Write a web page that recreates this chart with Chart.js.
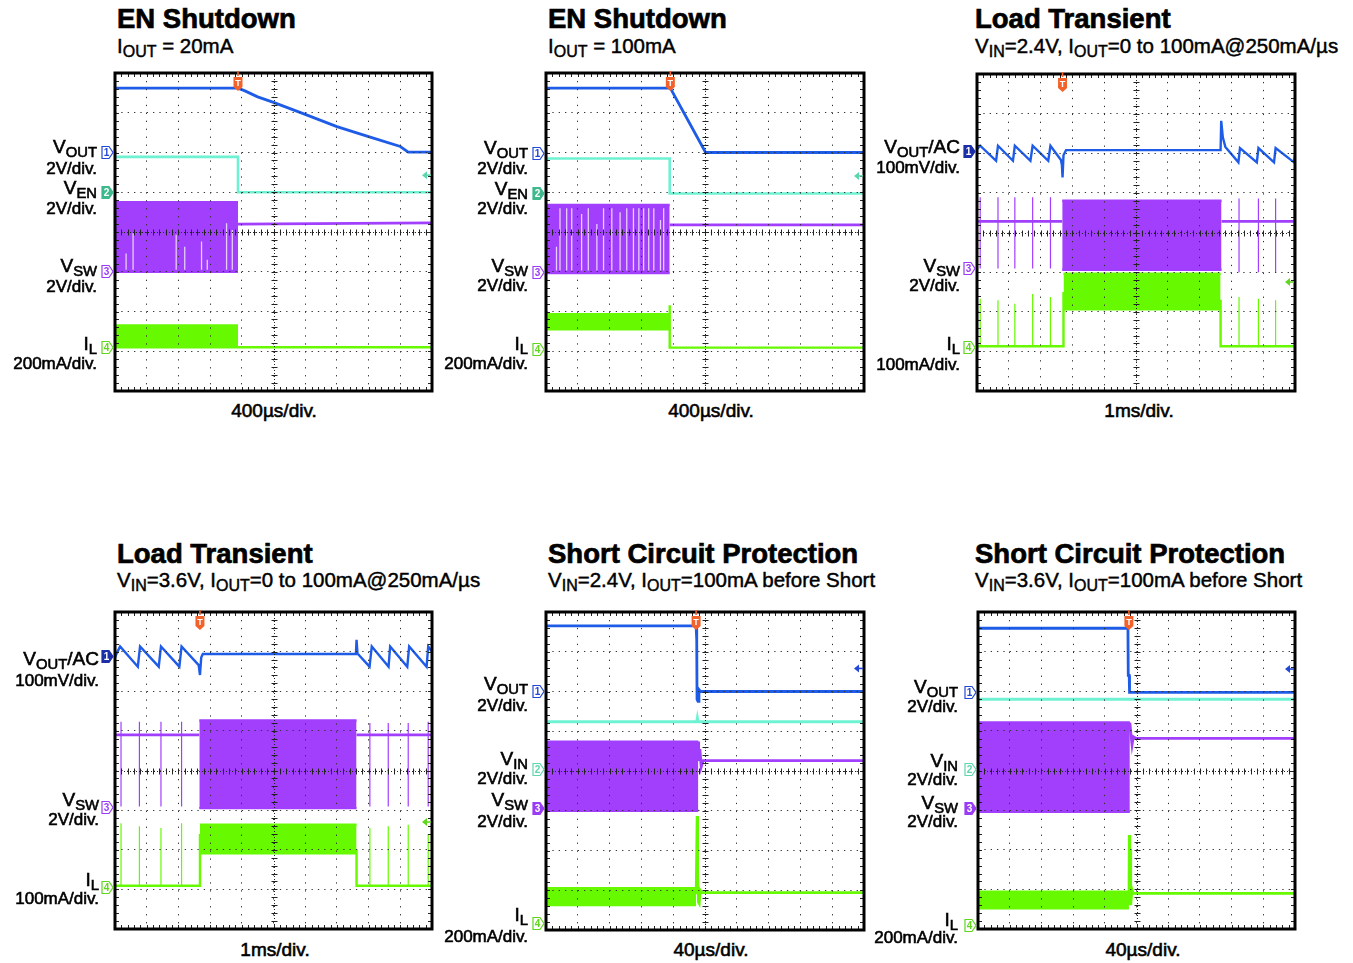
<!DOCTYPE html>
<html>
<head>
<meta charset="utf-8">
<script src="https://cdn.jsdelivr.net/npm/chart.js@4.4.1/dist/chart.umd.min.js"></script>
<style>
  body { margin: 0; background: #fff; width: 1353px; height: 963px; position: relative; overflow: hidden;
         font-family: "Liberation Sans", Arial, Helvetica, sans-serif; color: #000; }
  .t { position: absolute; white-space: nowrap; line-height: 1; }
  .title { font-weight: bold; -webkit-text-stroke: 0.7px #000; }
  .sub { -webkit-text-stroke: 0.45px #000; }
  .lab, .time { -webkit-text-stroke: 0.6px #000; }
  sub { font-size: 0.78em; vertical-align: -0.24em; line-height: 0; }
  canvas { position: absolute; }
</style>
</head>
<body>
<script>
// ---- trace data, in scope divisions (x: 0..10, y: 0..8 from the bottom) ----

// EN Shutdown, IOUT = 20mA
const en20Vout = [[0,7.62],[3.88,7.62],[4.1,7.55],[4.5,7.4],[5,7.26],[6,6.96],[7,6.65],[8,6.4],[9,6.15],[9.25,6.01],[10,6.01]];
const en20Ven = [[0,5.89],[3.88,5.89],[3.88,5.0],[10,5.0]];
const en20VswTop = [[0,4.75],[3.88,4.75]];
const en20VswBot = [[0,3.0],[3.88,3.0]];
const en20VswOff = [[3.88,4.2],[10,4.23]];
const en20GapX = [0.35,0.57,1.93,2.2,2.73,2.91,3.52,3.7];
const en20GapTop = [3.46,3.97,3.93,3.63,3.76,3.3,4.22,4.05];
const en20IlTop = [[0,1.65],[3.88,1.65]];
const en20IlBot = [[0,1.1],[3.88,1.1]];
const en20IlOff = [[3.88,1.1],[10,1.1]];
const en20Markers = [6.01,5.0,3.02,1.1];
const en20Trig = 3.88, en20Level = 5.43;

// EN Shutdown, IOUT = 100mA
const en100Vout = [[0,7.62],[3.91,7.62],[5.02,6.0],[10,6.0]];
const en100Ven = [[0,5.85],[3.89,5.85],[3.89,4.97],[10,4.97]];
const en100VswTop = [[0,4.68],[3.89,4.68]];
const en100VswBot = [[0,2.97],[3.89,2.97]];
const en100VswOff = [[3.89,4.18],[10,4.18]];
const en100GapX = [0.33,0.44,0.65,0.81,1.12,1.33,1.6,1.81,2.07,2.33,2.54,2.75,2.92,3.07,3.23,3.39,3.6,3.7];
const en100GapTop = [3.63,4.6,4.6,4.6,4.45,4.6,4.2,4.6,4.6,4.5,4.6,4.6,4.6,4.6,4.6,4.6,4.3,4.6];
const en100IlTop = [[0,1.93],[3.89,1.93]];
const en100IlBot = [[0,1.55],[3.89,1.55]];
const en100IlOff = [[3.89,2.16],[3.89,1.09],[10,1.09]];
const en100Markers = [5.98,4.99,3.0,1.05];
const en100Trig = 3.91, en100Level = 5.41;

// Load Transient, VIN = 2.4V
const lt24Vout = [[0,6.1],[0.1,6.19],[0.6,5.81],[0.66,6.19],[1.13,5.81],[1.19,6.19],[1.68,5.81],[1.75,6.19],[2.24,5.81],[2.31,6.19],
  [2.64,5.83],[2.67,5.7],[2.69,5.39],[2.72,5.95],[2.8,6.08],[7.66,6.08],[7.68,6.82],[7.73,6.4],[7.81,6.16],[8.22,5.77],[8.27,6.13],
  [8.8,5.77],[8.85,6.13],[9.34,5.77],[9.39,6.13],[9.97,5.77],[10,5.95]];
const lt24VswFlat = [[0,4.28],[2.68,4.28],[2.68,null],[7.69,4.28],[10,4.28]];
const lt24VswTop = [[2.68,4.8],[7.69,4.8]];
const lt24VswBot = [[2.68,3.06],[7.69,3.06]];
const lt24SpikeX = [0.1,0.66,1.19,1.75,2.31,8.24,8.85,9.39,9.97];
const lt24VswSpikeTop = [4.89,4.89,4.89,4.89,4.89,4.86,4.86,4.86,4.89];
const lt24VswSpikeBot = [3.09,3.09,3.09,3.09,3.09,3.0,3.0,3.0,3.05];
const lt24IlFlat = [[0,1.13],[2.72,1.13],[2.72,2.5],[2.72,null],[7.66,2.3],[7.66,1.13],[10,1.13]];
const lt24IlSpikeTop = [2.33,2.29,2.2,2.45,2.37,2.37,2.33,2.29,2.2];
const lt24IlTop = [[2.72,2.96],[7.66,2.96]];
const lt24IlBot = [[2.72,2.06],[7.66,2.06]];
const lt24Markers = [6.06,3.1,1.11];
const lt24Trig = 2.69, lt24Level = 2.75;

// Load Transient, VIN = 3.6V
const lt36Vout = [[0,6.85],[0.05,6.95],[0.16,7.13],[0.72,6.62],[0.79,7.13],[1.38,6.62],[1.45,7.13],[2.03,6.62],[2.1,7.13],
  [2.64,6.66],[2.68,6.41],[2.72,6.85],[2.77,6.94],[7.6,6.94],[7.62,7.3],[7.65,6.95],[8.03,6.62],[8.1,7.13],[8.63,6.62],
  [8.68,7.13],[9.22,6.62],[9.28,7.13],[9.83,6.62],[9.88,7.13],[10,7.0]];
const lt36VswFlat = [[0,4.9],[2.66,4.9],[2.66,null],[7.62,4.9],[10,4.9]];
const lt36VswTop = [[2.66,5.26],[7.62,5.26]];
const lt36VswBot = [[2.66,3.05],[7.62,3.05]];
const lt36SpikeX = [0.19,0.77,1.45,2.1,8.04,8.62,9.25,9.88];
const lt36VswSpikeTop = [5.23,5.23,5.23,5.23,5.2,5.2,5.2,5.23];
const lt36VswSpikeBot = [3.09,3.09,3.09,3.09,3.09,3.09,3.09,3.09];
const lt36IlFlat = [[0,1.09],[2.68,1.09],[2.68,2.4],[2.68,null],[7.62,2.0],[7.62,1.09],[10,1.09]];
const lt36IlSpikeTop = [2.67,2.59,2.55,2.67,2.55,2.59,2.63,2.4];
const lt36IlTop = [[2.68,2.63],[7.62,2.63]];
const lt36IlBot = [[2.68,1.91],[7.62,1.91]];
const lt36Markers = [6.89,3.09,1.07];
const lt36Trig = 2.68, lt36Level = 2.7;

// Short Circuit Protection, VIN = 2.4V
const sc24Vout = [[0,7.65],[4.72,7.65],[4.74,7.3],[4.75,5.8],[4.78,5.75],[4.81,6.05],[4.86,6.0],[10,6.0]];
const sc24Vin = [[0,5.24],[4.74,5.24],[4.76,5.33],[4.78,5.24],[10,5.24]];
const sc24VswTop = [[0,4.74],[4.79,4.74]];
const sc24VswBot = [[0,3.0],[4.79,3.0]];
const sc24VswOff = [[4.79,4.74],[4.8,4.25],[4.84,4.55],[4.88,4.1],[4.94,4.26],[10,4.26]];
const sc24IlTop = [[0,1.05],[4.72,1.05]];
const sc24IlBot = [[0,0.63],[4.72,0.63]];
const sc24IlOff = [[4.72,0.9],[4.75,2.87],[4.77,1.6],[4.79,0.7],[4.82,0.66],[4.85,1.0],[4.9,0.94],[10,0.94]];
const sc24Markers = [6.02,4.04,3.06,0.17];
const sc24Trig = 4.72, sc24Level = 6.58;

// Short Circuit Protection, VIN = 3.6V
const sc36Vout = [[0,7.59],[4.73,7.59],[4.74,6.4],[4.77,6.4],[4.78,5.97],[10,5.97]];
const sc36Vin = [[0,5.8],[10,5.8]];
const sc36VswTop = [[0,5.21],[4.79,5.21]];
const sc36VswBot = [[0,2.96],[4.79,2.96]];
const sc36VswOff = [[4.79,5.21],[4.82,4.95],[4.86,4.65],[4.9,4.85],[4.99,4.81],[10,4.81]];
const sc36IlTop = [[0,0.94],[4.76,0.94]];
const sc36IlBot = [[0,0.52],[4.76,0.52]];
const sc36IlOff = [[4.76,0.6],[4.77,2.37],[4.79,1.4],[4.8,2.0],[4.82,0.6],[4.86,1.0],[4.9,0.9],[10,0.9]];
const sc36Markers = [5.97,4.03,3.05,0.1];
const sc36Trig = 4.76, sc36Level = 6.56;

// ---- colours ----
const BLUE = '#1e5ce8', TEAL = '#6ff2d2', PURPLE = '#a13ffd', GREEN = '#66f900', ORANGE = '#f2622a';
const M_BLUE = '#2348d8', M_NAVY = '#1c2fa8', M_TEAL = '#3db98c', M_TEAL_L = '#5ed6ad', M_PURP = '#9a3cf5', M_GREEN = '#62d61e';
const LIGHT_P = 'rgba(236,214,255,0.95)';

// ---- helpers ----
function trace(data, color, width, order) {
  return { data: data, borderColor: color, borderWidth: width, fill: false, order: order, spanGaps: false };
}
function band(top, bot, color, order) {
  return [
    { data: top, borderColor: color, borderWidth: 2.4, backgroundColor: color, fill: '+1', order: order },
    { data: bot, borderColor: color, borderWidth: 2.4, fill: false, order: order }
  ];
}
function vlines(xs, tops, bots) {
  const out = [];
  xs.forEach(function (x, i) {
    const b = Array.isArray(bots) ? bots[i] : bots;
    out.push([x, b], [x, tops[i]], [x, null]);
  });
  return out;
}

const L_EN = [['V<sub>OUT</sub>','2V/div.'],['V<sub>EN</sub>','2V/div.'],['V<sub>SW</sub>','2V/div.'],['I<sub>L</sub>','200mA/div.']];
const L_LT = [['V<sub>OUT</sub>/AC','100mV/div.'],['V<sub>SW</sub>','2V/div.'],['I<sub>L</sub>','100mA/div.']];
const L_SC = [['V<sub>OUT</sub>','2V/div.'],['V<sub>IN</sub>','2V/div.'],['V<sub>SW</sub>','2V/div.'],['I<sub>L</sub>','200mA/div.']];

const panels = [
  { frame: [115,73,432,391], title: 'EN Shutdown', titleAt: [117,28.5], sub: 'I<sub>OUT</sub> = 20mA', subAt: [117,53],
    time: '400µs/div.', timeAt: [274,417], labX: 97, labs: L_EN, labY: [[153,174],[194,214],[272,292],[350,369]],
    chans: [['1',M_BLUE,false],['2',M_TEAL,true],['3',M_PURP,false],['4',M_GREEN,false]],
    markers: en20Markers, trig: en20Trig, level: [en20Level, M_TEAL_L],
    datasets: [].concat(
      [trace(en20Vout, BLUE, 2.8, 1), trace(en20Ven, TEAL, 2.6, 2)],
      [trace(vlines(en20GapX, en20GapTop, 3.05), LIGHT_P, 1.3, 2.5)],
      band(en20VswTop, en20VswBot, PURPLE, 3), [trace(en20VswOff, PURPLE, 2.8, 3)],
      band(en20IlTop, en20IlBot, GREEN, 4), [trace(en20IlOff, GREEN, 2.4, 4)]) },
  { frame: [546,73,864,391], title: 'EN Shutdown', titleAt: [548,28.5], sub: 'I<sub>OUT</sub> = 100mA', subAt: [548,53],
    time: '400µs/div.', timeAt: [711,417], labX: 528, labs: L_EN, labY: [[154,174],[195,214],[272,291],[350,369]],
    chans: [['1',M_BLUE,false],['2',M_TEAL,true],['3',M_PURP,false],['4',M_GREEN,false]],
    markers: en100Markers, trig: en100Trig, level: [en100Level, M_TEAL_L],
    datasets: [].concat(
      [trace(en100Vout, BLUE, 2.8, 1), trace(en100Ven, TEAL, 2.6, 2)],
      [trace(vlines(en100GapX, en100GapTop, 3.03), LIGHT_P, 1.3, 2.5)],
      band(en100VswTop, en100VswBot, PURPLE, 3), [trace(en100VswOff, PURPLE, 2.8, 3)],
      band(en100IlTop, en100IlBot, GREEN, 4), [trace(en100IlOff, GREEN, 2.4, 4)]) },
  { frame: [977,74,1295,391], title: 'Load Transient', titleAt: [975,28.5],
    sub: 'V<sub>IN</sub>=2.4V, I<sub>OUT</sub>=0 to 100mA@250mA/µs', subAt: [975,53],
    time: '1ms/div.', timeAt: [1139,417], labX: 960, labs: L_LT, labY: [[153,173],[272,291],[350,370]],
    chans: [['1',M_NAVY,true],['3',M_PURP,false],['4',M_GREEN,false]],
    markers: lt24Markers, trig: lt24Trig, level: [lt24Level, M_GREEN],
    datasets: [].concat(
      [trace(lt24Vout, BLUE, 2.4, 1)],
      [trace(vlines(lt24SpikeX, lt24VswSpikeTop, lt24VswSpikeBot), PURPLE, 1.2, 3)],
      [trace(lt24VswFlat, PURPLE, 2.6, 3)], band(lt24VswTop, lt24VswBot, PURPLE, 3),
      [trace(vlines(lt24SpikeX, lt24IlSpikeTop, 1.13), GREEN, 1.2, 4)],
      [trace(lt24IlFlat, GREEN, 2.4, 4)], band(lt24IlTop, lt24IlBot, GREEN, 4)) },
  { frame: [115,612,432,929], title: 'Load Transient', titleAt: [117,563],
    sub: 'V<sub>IN</sub>=3.6V, I<sub>OUT</sub>=0 to 100mA@250mA/µs', subAt: [117,587],
    time: '1ms/div.', timeAt: [275,956], labX: 99, labs: L_LT, labY: [[665,686],[806,825],[886,904]],
    chans: [['1',M_NAVY,true],['3',M_PURP,false],['4',M_GREEN,false]],
    markers: lt36Markers, trig: lt36Trig, level: [lt36Level, M_GREEN],
    datasets: [].concat(
      [trace(lt36Vout, BLUE, 2.4, 1)],
      [trace(vlines(lt36SpikeX, lt36VswSpikeTop, lt36VswSpikeBot), PURPLE, 1.2, 3)],
      [trace(lt36VswFlat, PURPLE, 2.6, 3)], band(lt36VswTop, lt36VswBot, PURPLE, 3),
      [trace(vlines(lt36SpikeX, lt36IlSpikeTop, 1.09), GREEN, 1.2, 4)],
      [trace(lt36IlFlat, GREEN, 2.4, 4)], band(lt36IlTop, lt36IlBot, GREEN, 4)) },
  { frame: [546,612,864,930], title: 'Short Circuit Protection', titleAt: [548,563],
    sub: 'V<sub>IN</sub>=2.4V, I<sub>OUT</sub>=100mA before Short', subAt: [548,587],
    time: '40µs/div.', timeAt: [711,956], labX: 528, labs: L_SC, labY: [[690,711],[765,784],[806,827],[921,942]],
    chans: [['1',M_BLUE,false],['2',M_TEAL_L,false],['3',M_PURP,true],['4',M_GREEN,false]],
    markers: sc24Markers, trig: sc24Trig, level: [sc24Level, M_BLUE],
    datasets: [].concat(
      [trace(sc24Vout, BLUE, 2.8, 1), trace(sc24Vin, TEAL, 3, 2)],
      band(sc24VswTop, sc24VswBot, PURPLE, 3), [trace(sc24VswOff, PURPLE, 2.8, 3)],
      band(sc24IlTop, sc24IlBot, GREEN, 4), [trace(sc24IlOff, GREEN, 2.6, 4)]) },
  { frame: [978,612,1295,929], title: 'Short Circuit Protection', titleAt: [975,563],
    sub: 'V<sub>IN</sub>=3.6V, I<sub>OUT</sub>=100mA before Short', subAt: [975,587],
    time: '40µs/div.', timeAt: [1143,956], labX: 958, labs: L_SC, labY: [[693,712],[767,785],[809,827],[926,943]],
    chans: [['1',M_BLUE,false],['2',M_TEAL_L,false],['3',M_PURP,true],['4',M_GREEN,false]],
    markers: sc36Markers, trig: sc36Trig, level: [sc36Level, M_BLUE],
    datasets: [].concat(
      [trace(sc36Vout, BLUE, 2.8, 1), trace(sc36Vin, TEAL, 3, 2)],
      band(sc36VswTop, sc36VswBot, PURPLE, 3), [trace(sc36VswOff, PURPLE, 2.8, 3)],
      band(sc36IlTop, sc36IlBot, GREEN, 4), [trace(sc36IlOff, GREEN, 2.6, 4)]) }
];

// scope graticule decorations, channel markers, trigger marks
const scopeDeco = {
  id: 'scopeDeco',
  afterDraw(chart, args, opts) {
    const ctx = chart.ctx, a = chart.chartArea, xs = chart.scales.x, ys = chart.scales.y;
    ctx.save();
    // centre crosshair and edge ticks
    ctx.strokeStyle = '#222';
    ctx.lineWidth = 1;
    const cx = Math.round(xs.getPixelForValue(5)) + 0.5, cy = Math.round(ys.getPixelForValue(4)) + 0.5;
    ctx.beginPath();
    for (let i = 0; i <= 50; i++) {
      const px = Math.round(xs.getPixelForValue(i * 0.2)) + 0.5;
      ctx.moveTo(px, cy - 3); ctx.lineTo(px, cy + 3);
      ctx.moveTo(px, a.top); ctx.lineTo(px, a.top + 4);
      ctx.moveTo(px, a.bottom); ctx.lineTo(px, a.bottom - 4);
    }
    for (let i = 0; i <= 40; i++) {
      const py = Math.round(ys.getPixelForValue(i * 0.2)) + 0.5;
      ctx.moveTo(cx - 3, py); ctx.lineTo(cx + 3, py);
      ctx.moveTo(a.left, py); ctx.lineTo(a.left + 4, py);
      ctx.moveTo(a.right, py); ctx.lineTo(a.right - 4, py);
    }
    ctx.stroke();
    ctx.setLineDash([1, 2]);
    ctx.beginPath();
    ctx.moveTo(a.left, cy); ctx.lineTo(a.right, cy);
    ctx.moveTo(cx, a.top); ctx.lineTo(cx, a.bottom);
    ctx.stroke();
    ctx.setLineDash([]);
    // frame
    ctx.lineWidth = 3;
    ctx.strokeStyle = '#000';
    ctx.strokeRect(a.left, a.top, a.right - a.left, a.bottom - a.top);

    // channel markers
    ctx.font = 'bold 10px "Liberation Sans", Arial, sans-serif';
    ctx.textAlign = 'center';
    ctx.textBaseline = 'middle';
    opts.chans.forEach(function (c, i) {
      const yc = Math.round(ys.getPixelForValue(opts.markers[i])) + 0.5;
      const xr = a.left - 2, x0 = xr - 11, h = 12;
      ctx.beginPath();
      ctx.moveTo(x0, yc - h / 2); ctx.lineTo(xr - 4, yc - h / 2); ctx.lineTo(xr, yc);
      ctx.lineTo(xr - 4, yc + h / 2); ctx.lineTo(x0, yc + h / 2); ctx.closePath();
      ctx.fillStyle = c[2] ? c[1] : '#fff';
      ctx.fill();
      ctx.lineWidth = 1.2;
      ctx.strokeStyle = c[1];
      ctx.stroke();
      ctx.fillStyle = c[2] ? '#fff' : c[1];
      ctx.fillText(c[0], x0 + 4.5, yc + 0.5);
    });

    // trigger position
    const tx = xs.getPixelForValue(opts.trig);
    ctx.fillStyle = ORANGE;
    ctx.fillRect(tx - 0.8, a.top - 2, 1.6, 5);
    ctx.beginPath();
    ctx.moveTo(tx - 4.5, a.top + 4); ctx.lineTo(tx + 4.5, a.top + 4); ctx.lineTo(tx + 4.5, a.top + 14);
    ctx.lineTo(tx, a.top + 18); ctx.lineTo(tx - 4.5, a.top + 14); ctx.closePath();
    ctx.fill();
    ctx.fillStyle = '#fff';
    ctx.font = 'bold 9px "Liberation Sans", Arial, sans-serif';
    ctx.fillText('T', tx, a.top + 10.5);

    // trigger level
    const ly = ys.getPixelForValue(opts.level[0]);
    ctx.fillStyle = opts.level[1];
    ctx.beginPath();
    ctx.moveTo(a.right - 10, ly); ctx.lineTo(a.right - 5, ly - 4); ctx.lineTo(a.right - 5, ly + 4); ctx.closePath();
    ctx.fill();
    ctx.fillRect(a.right - 5, ly - 0.8, 4, 1.6);
    ctx.restore();
  }
};

function text(html, x, base, fs, cls, align) {
  const d = document.createElement('div');
  d.className = 't ' + cls;
  d.innerHTML = html;
  d.style.fontSize = fs + 'px';
  d.style.left = x + 'px';
  d.style.top = (base - 0.8465 * fs) + 'px';
  if (align === 'right') d.style.transform = 'translateX(-100%)';
  if (align === 'center') d.style.transform = 'translateX(-50%)';
  document.body.appendChild(d);
}

const PAD = { left: 26, right: 8, top: 8, bottom: 8 };

panels.forEach(function (p) {
  const f = p.frame;
  const cv = document.createElement('canvas');
  cv.width = (f[2] - f[0]) + PAD.left + PAD.right;
  cv.height = (f[3] - f[1]) + PAD.top + PAD.bottom;
  cv.style.left = (f[0] - PAD.left) + 'px';
  cv.style.top = (f[1] - PAD.top) + 'px';
  cv.style.width = cv.width + 'px';
  cv.style.height = cv.height + 'px';
  document.body.appendChild(cv);

  new Chart(cv, {
    type: 'line',
    data: { datasets: p.datasets },
    options: {
      responsive: false,
      animation: false,
      events: [],
      layout: { padding: PAD },
      elements: { point: { radius: 0 }, line: { tension: 0, borderCapStyle: 'butt' } },
      plugins: {
        legend: { display: false },
        tooltip: { enabled: false },
        scopeDeco: { chans: p.chans, markers: p.markers, trig: p.trig, level: p.level }
      },
      scales: {
        x: { type: 'linear', min: 0, max: 10,
             ticks: { display: false, stepSize: 1 },
             grid: { color: '#333', lineWidth: 1, drawTicks: false, z: 1 },
             border: { display: false, dash: [1.3, 6.65] } },
        y: { type: 'linear', min: 0, max: 8,
             ticks: { display: false, stepSize: 1 },
             grid: { color: '#333', lineWidth: 1, drawTicks: false, z: 1 },
             border: { display: false, dash: [1.3, 5.04] } }
      }
    },
    plugins: [scopeDeco]
  });

  text(p.title, p.titleAt[0], p.titleAt[1], 27.5, 'title', 'left');
  text(p.sub, p.subAt[0], p.subAt[1], 20.5, 'sub', 'left');
  text(p.time, p.timeAt[0], p.timeAt[1], 19, 'time', 'center');
  p.labs.forEach(function (l, i) {
    text(l[0], p.labX, p.labY[i][0], 19, 'lab', 'right');
    text(l[1], p.labX, p.labY[i][1], 17, 'lab', 'right');
  });
});
</script>
</body>
</html>
